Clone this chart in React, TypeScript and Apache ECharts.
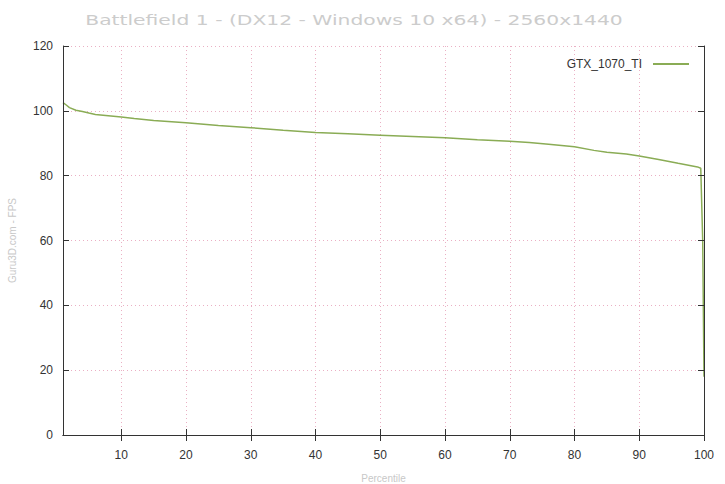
import React, { useEffect, useRef } from "react";
import * as echarts from "echarts";

const titleText = "Battlefield 1 - (DX12 - Windows 10 x64) - 2560x1440";
const seriesName = "GTX_1070_TI";
const xTicks = [10, 20, 30, 40, 50, 60, 70, 80, 90, 100];
const percentiles = [1, 1.5, 2, 3, 4, 5, 6, 8, 10, 12, 15, 20, 25, 30, 35, 40, 45, 50, 55, 60, 65, 70, 73, 76, 80, 83, 85, 88, 90, 93, 96, 99, 99.5, 99.8, 100];
const fps = [102.5, 101.8, 101.0, 100.2, 99.8, 99.3, 98.9, 98.5, 98.1, 97.6, 97.0, 96.3, 95.5, 94.8, 94.0, 93.3, 92.9, 92.5, 92.1, 91.7, 91.1, 90.6, 90.2, 89.7, 88.9, 87.8, 87.2, 86.7, 86.1, 85.0, 83.8, 82.7, 82.3, 60, 18];

export default function App() {
  const ref = useRef<HTMLDivElement>(null);
  useEffect(() => {
    if (!ref.current) return;
    const chart = echarts.init(ref.current, null, { renderer: "svg" });
    const lineColor = "#8aac55";
    const gridColor = "#eab0c4";
    const tickStyle = { show: true, inside: true, length: 6, lineStyle: { color: "#333" } };
    chart.setOption({
      animation: false,
      backgroundColor: "#fff",
      grid: { left: 63, right: 21, top: 46, bottom: 49, show: false, containLabel: false, outerBoundsMode: "none" },
      graphic: [
        {
          type: "text",
          x: 354,
          y: 20,
          scaleX: 1.45,
          style: {
            text: titleText,
            fill: "#cccccc",
            font: "14px 'DejaVu Sans'",
            align: "center",
            verticalAlign: "middle",
          },
        },
      ],
      legend: {
        right: 31,
        top: 53,
        align: "right",
        itemWidth: 36,
        itemHeight: 2,
        icon: "rect",
        textStyle: { color: "#333", fontSize: 12, fontFamily: "Liberation Sans", padding: [0, 6, 0, 0] },
        data: [seriesName],
      },
      xAxis: [
        {
          type: "value",
          min: 1,
          max: 100,
          z: 1,
          name: "Percentile",
          nameLocation: "middle",
          nameGap: 38,
          nameTextStyle: { color: "#c8c8c8", fontSize: 10, fontFamily: "Liberation Sans" },
          axisLine: { show: false },
          axisTick: { show: false, customValues: xTicks },
          axisLabel: { customValues: xTicks, color: "#333", fontSize: 12, fontFamily: "Liberation Sans", margin: 14 },
          splitLine: { show: true, lineStyle: { color: gridColor, type: [1, 3], width: 1 } },
        },
        {
          type: "value",
          min: 1,
          max: 100,
          position: "top",
          z: 5,
          axisLine: { show: true, lineStyle: { color: "#333" } },
          axisTick: { ...tickStyle, customValues: xTicks },
          axisLabel: { show: false, customValues: xTicks },
          splitLine: { show: false },
        },
        {
          type: "value",
          min: 1,
          max: 100,
          position: "bottom",
          z: 5,
          axisLine: { show: true, onZero: false, lineStyle: { color: "#333" } },
          axisTick: { ...tickStyle, customValues: xTicks },
          axisLabel: { show: false, customValues: xTicks },
          splitLine: { show: false },
        },
      ],
      yAxis: [
        {
          type: "value",
          min: 0,
          max: 120,
          interval: 20,
          z: 5,
          name: "Guru3D.com - FPS",
          nameLocation: "middle",
          nameGap: 46,
          nameRotate: 90,
          nameTextStyle: { color: "#c8c8c8", fontSize: 10, fontFamily: "Liberation Sans" },
          axisLine: { show: true, lineStyle: { color: "#333" } },
          axisTick: tickStyle,
          axisLabel: { color: "#333", fontSize: 12, fontFamily: "Liberation Sans", margin: 10 },
          splitLine: { show: false },
        },
        {
          type: "value",
          min: 0,
          max: 120,
          interval: 20,
          position: "right",
          z: 5,
          axisLine: { show: true, lineStyle: { color: "#333" } },
          axisTick: tickStyle,
          axisLabel: { show: false },
          splitLine: { show: false },
        },
        {
          type: "value",
          min: 0,
          max: 120,
          interval: 20,
          position: "left",
          z: 1,
          axisLine: { show: false },
          axisTick: { show: false },
          axisLabel: { show: false },
          splitLine: { show: true, lineStyle: { color: gridColor, type: [1, 3], width: 1 } },
        },
      ],
      series: [
        {
          name: seriesName,
          type: "line",
          xAxisIndex: 0,
          yAxisIndex: 0,
          showSymbol: false,
          symbol: "none",
          smooth: false,
          z: 3,
          color: lineColor,
          lineStyle: { color: lineColor, width: 1.5 },
          data: percentiles.map((p, i) => [p, fps[i]]),
        },
      ],
    });
    return () => chart.dispose();
  }, []);
  return <div ref={ref} style={{ width: 725, height: 484, position: "absolute", left: 0, top: 0 }} />;
}
